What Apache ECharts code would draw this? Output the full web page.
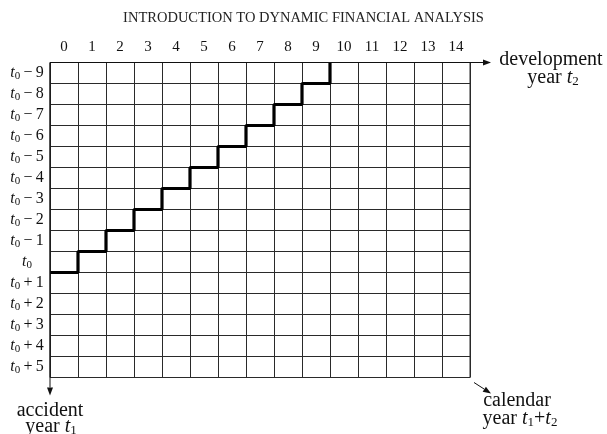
<!DOCTYPE html>
<html><head><meta charset="utf-8">
<script src="https://cdn.jsdelivr.net/npm/echarts@6/dist/echarts.min.js"></script>
<style>html,body{margin:0;padding:0;background:#fff}#c{width:607px;height:434px}</style>
</head><body><div id="c"></div>
<script>
// ---- data ----
var titleText = 'INTRODUCTION TO DYNAMIC FINANCIAL ANALYSIS';
var devYears = ['0','1','2','3','4','5','6','7','8','9','10','11','12','13','14'];
var accOffsets = ['−9','−8','−7','−6','−5','−4','−3','−2','−1','','+1','+2','+3','+4','+5'];
// step boundary: for development year j (0..10), row boundary index of the latest diagonal
var stepX = [0,1,2,3,4,5,6,7,8,9,10];
var stepY = [10,9,8,7,6,5,4,3,2,1,0];

var FONT = '"Liberation Serif", "DejaVu Serif", serif';
var chart = echarts.init(document.getElementById('c'), null, {renderer:'canvas'});
var nCols = devYears.length, nRows = accOffsets.length;
var gridLine = {color:'#2a2a2a', width:1};

var option = {
  backgroundColor:'#fff',
  animation:false,
  title:{text:titleText, left:'center', top:6,
    textStyle:{fontFamily:FONT, fontSize:14.5, fontWeight:'normal', color:'#222'}},
  grid:{left:50, top:62.5, width:420, height:315, show:true, borderColor:'#2a2a2a', borderWidth:1, containLabel:false},
  xAxis:[
    {type:'category', data:devYears, position:'top', boundaryGap:true,
     axisLine:{show:false}, axisTick:{show:false}, splitLine:{show:false},
     axisLabel:{fontFamily:FONT, fontSize:15, color:'#111', margin:8}},
    {type:'value', min:0, max:nCols, interval:1, position:'top',
     axisLine:{show:false}, axisTick:{show:false}, axisLabel:{show:false},
     splitLine:{show:true, lineStyle:gridLine}}
  ],
  yAxis:[
    {type:'category', data:accOffsets, inverse:true, boundaryGap:true,
     axisLine:{show:false}, axisTick:{show:false}, splitLine:{show:false},
     axisLabel:{margin:23, align:'center',
       formatter:function(v){ return '{t|t}{s|0}' + (v ? '{o|\u2009' + v.charAt(0) + '\u2009' + v.slice(1) + '}' : ''); },
       rich:{
         t:{fontFamily:FONT, fontStyle:'italic', fontSize:16, color:'#111'},
         s:{fontFamily:FONT, fontSize:11, color:'#111', padding:[7,0,0,0]},
         o:{fontFamily:FONT, fontSize:16, color:'#111'}
       }}},
    {type:'value', min:0, max:nRows, interval:1, inverse:true,
     axisLine:{show:false}, axisTick:{show:false}, axisLabel:{show:false},
     splitLine:{show:true, lineStyle:gridLine}}
  ],
  series:[{
    type:'line', xAxisIndex:1, yAxisIndex:1, step:'end', symbol:'none',
    lineStyle:{color:'#000', width:3.2}, z:5,
    data: stepX.map(function(x,i){ return [x, stepY[i]]; })
  }]
};
chart.setOption(option);

// ---- decorations tied to grid ----
var p00 = chart.convertToPixel({xAxisIndex:1, yAxisIndex:1}, [0,0]);
var pNN = chart.convertToPixel({xAxisIndex:1, yAxisIndex:1}, [nCols,nRows]);
var L = p00[0], T = p00[1], R = pNN[0], B = pNN[1];
function arrow(x1,y1,x2,y2){
  var dx=x2-x1, dy=y2-y1, len=Math.sqrt(dx*dx+dy*dy), ux=dx/len, uy=dy/len;
  var hl=8, hw=3;
  var bx=x2-ux*hl, by=y2-uy*hl;
  return [
    {type:'line', shape:{x1:x1,y1:y1,x2:bx,y2:by}, style:{stroke:'#111', lineWidth:1}, z:10},
    {type:'polygon', shape:{points:[[x2,y2],[bx-uy*hw,by+ux*hw],[bx+uy*hw,by-ux*hw]]}, style:{fill:'#111'}, z:10}
  ];
}
function txt(x,y,rich,text,size){
  return {type:'text', x:x, y:y, z:10, style:{text:text, rich:rich, fontFamily:FONT, fontSize:size, fill:'#111', align:'center', verticalAlign:'middle'}};
}
var R2 = {
  n:{fontFamily:FONT, fontSize:20, color:'#111'},
  i:{fontFamily:FONT, fontSize:20, fontStyle:'italic', color:'#111'},
  s:{fontFamily:FONT, fontSize:13, color:'#111', padding:[9,0,0,0]}
};
var g = [];
g = g.concat(arrow(L, T, R+21, T));
g = g.concat(arrow(L, T, L, B+18));
g = g.concat(arrow(R+4, B+5, R+21, B+16));
g.push(txt(R+81, T-3, R2, '{n|development}', 20));
g.push(txt(R+83, T+15, R2, '{n|year }{i|t}{s|2}', 20));
g.push(txt(L, B+33, R2, '{n|accident}', 20));
g.push(txt(L+1, B+49, R2, '{n|year }{i|t}{s|1}', 20));
g.push(txt(R+47, B+23, R2, '{n|calendar}', 20));
g.push(txt(R+50, B+41, R2, '{n|year }{i|t}{s|1}{n|+}{i|t}{s|2}', 20));
chart.setOption({graphic:g});
</script></body></html>
